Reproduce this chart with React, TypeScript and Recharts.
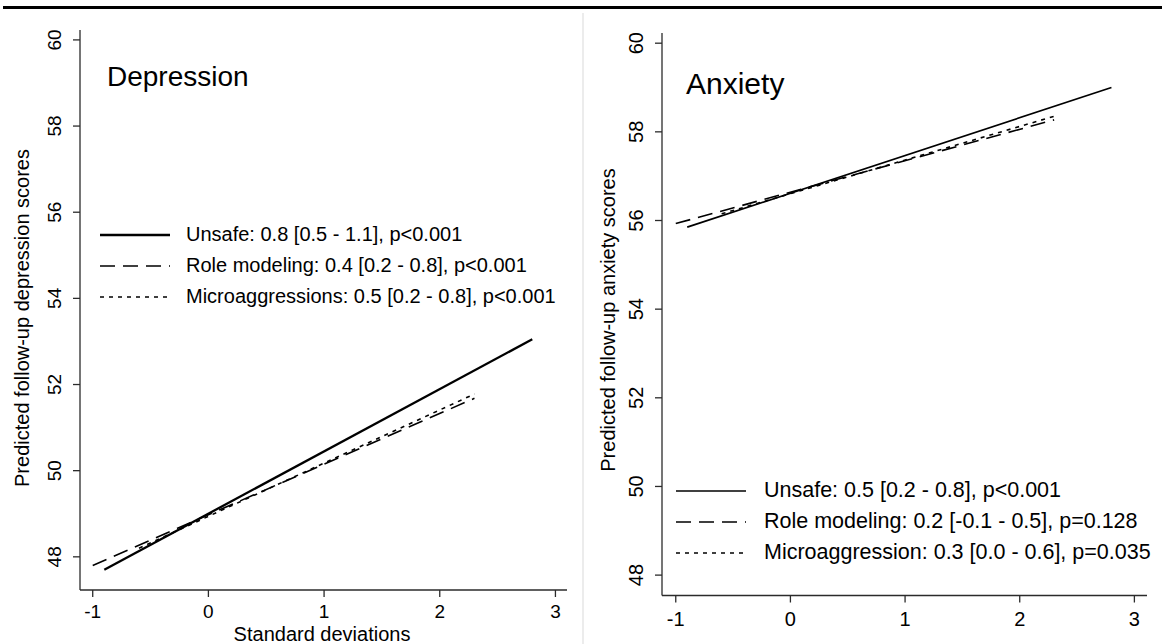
import React from 'react';
import { LineChart, Line, XAxis, YAxis, Legend } from 'recharts';

const FONT = '"Liberation Sans", Arial, Helvetica, sans-serif';
const INK = '#000';
const AXIS = '#2b2b2b';

const sdTicks = [-1, 0, 1, 2, 3];
const scoreTicks = [48, 50, 52, 54, 56, 58, 60];

// depression panel
const depUnsafeSd = [-0.9, 2.8];
const depUnsafe = [47.7, 53.05];
const depRoleSd = [-1.0, 2.3];
const depRole = [47.8, 51.68];
const depMicroSd = [-0.6, 2.3];
const depMicro = [48.2, 51.78];

// anxiety panel
const anxUnsafeSd = [-0.9, 2.8];
const anxUnsafe = [55.85, 59.0];
const anxRoleSd = [-1.0, 2.3];
const anxRole = [55.93, 58.27];
const anxMicroSd = [-0.6, 2.3];
const anxMicro = [56.15, 58.35];

const depLabels = [
  'Unsafe: 0.8 [0.5 - 1.1], p<0.001',
  'Role modeling: 0.4 [0.2 - 0.8], p<0.001',
  'Microaggressions: 0.5 [0.2 - 0.8], p<0.001',
];
const anxLabels = [
  'Unsafe: 0.5 [0.2 - 0.8], p<0.001',
  'Role modeling: 0.2 [-0.1 - 0.5], p=0.128',
  'Microaggression: 0.3 [0.0 - 0.6], p=0.035',
];

const rows = (xs: number[], ys: number[]) => xs.map((sd, i) => ({ sd, score: ys[i] }));

type Series = { name: string; data: { sd: number; score: number }[]; dash?: string; width: number };

const depSeries: Series[] = [
  { name: depLabels[0], data: rows(depUnsafeSd, depUnsafe), width: 2.3 },
  { name: depLabels[1], data: rows(depRoleSd, depRole), dash: '15 8', width: 1.6 },
  { name: depLabels[2], data: rows(depMicroSd, depMicro), dash: '4 5', width: 1.6 },
];
const anxSeries: Series[] = [
  { name: anxLabels[0], data: rows(anxUnsafeSd, anxUnsafe), width: 1.7 },
  { name: anxLabels[1], data: rows(anxRoleSd, anxRole), dash: '15 8', width: 1.6 },
  { name: anxLabels[2], data: rows(anxMicroSd, anxMicro), dash: '4 5', width: 1.6 },
];

const XTick = (props: any) => {
  const { x, y, payload, size, drop } = props;
  return (
    <text x={x} y={y + drop} textAnchor="middle" fontSize={size} fontFamily={FONT} fill={INK}>
      {payload.value}
    </text>
  );
};

const YTick = (props: any) => {
  const { x, y, payload, shift, size } = props;
  return (
    <text
      transform={`translate(${x - shift},${y}) rotate(-90)`}
      textAnchor="middle"
      dy="0.36em"
      fontSize={size}
      fontFamily={FONT}
      fill={INK}
    >
      {payload.value}
    </text>
  );
};

const YTitle = ({ text, posX, posY, size }: any) => (
  <text
    transform={`translate(${posX},${posY}) rotate(-90)`}
    textAnchor="middle"
    dy="0.36em"
    fontSize={size}
    fontFamily={FONT}
    fill={INK}
  >
    {text}
  </text>
);

const XTitle = ({ text, posX, posY }: any) => (
  <text transform={`translate(${posX},${posY})`} textAnchor="middle" fontSize={20} fontFamily={FONT} fill={INK}>
    {text}
  </text>
);

const LegendBox = ({ series, gap, size }: { series: Series[]; gap: number; size: number }) => (
  <div style={{ fontFamily: FONT }}>
    {series.map(s => (
      <div key={s.name} style={{ display: 'flex', alignItems: 'center', height: 31 }}>
        <svg width={70} height={6} style={{ marginRight: gap, flex: 'none' }}>
          <line x1={0} y1={3} x2={70} y2={3} stroke={INK} strokeWidth={s.width} strokeDasharray={s.dash} />
        </svg>
        <span style={{ fontSize: size, color: INK, whiteSpace: 'nowrap' }}>{s.name}</span>
      </div>
    ))}
  </div>
);

interface PanelProps {
  left: number;
  series: Series[];
  title: string;
  titleX: number;
  titleY: number;
  titleSize: number;
  yTitle: string;
  yTitleX: number;
  yTitleY: number;
  xTitle?: string;
  yDomain: [number, number];
  xDomain: [number, number];
  margin: { top: number; right: number; bottom: number; left: number };
  xAxisHeight: number;
  tickShift: number;
  tickSize: number;
  tickDrop: number;
  legendLeft: number;
  legendTop: number;
  legendGap: number;
  legendSize: number;
}

const Panel = (p: PanelProps) => (
  <div style={{ position: 'absolute', left: p.left, top: 0, width: 580, height: 644 }}>
    <LineChart width={580} height={644} margin={p.margin}>
      <XAxis
        dataKey="sd"
        type="number"
        domain={p.xDomain}
        ticks={sdTicks}
        allowDataOverflow
        stroke={AXIS}
        strokeWidth={1.3}
        tickSize={7}
        tickMargin={0}
        height={p.xAxisHeight}
        tick={<XTick size={p.tickSize} drop={p.tickDrop} />}
        label={p.xTitle ? <XTitle text={p.xTitle} posX={322} posY={641} /> : undefined}
      />
      <YAxis
        dataKey="score"
        type="number"
        domain={p.yDomain}
        ticks={scoreTicks}
        allowDataOverflow
        stroke={AXIS}
        strokeWidth={1.3}
        tickSize={7}
        tickMargin={0}
        width={60}
        tick={<YTick shift={p.tickShift} size={p.tickSize} />}
        label={<YTitle text={p.yTitle} posX={p.yTitleX} posY={p.yTitleY} size={20} />}
      />
      {p.series.map(s => (
        <Line
          key={s.name}
          name={s.name}
          data={s.data}
          dataKey="score"
          type="linear"
          stroke={INK}
          strokeWidth={s.width}
          strokeDasharray={s.dash}
          dot={false}
          activeDot={false}
          isAnimationActive={false}
        />
      ))}
      <Legend
        layout="vertical"
        align="center"
        verticalAlign="middle"
        wrapperStyle={{ left: p.legendLeft, top: p.legendTop, width: 480 }}
        content={() => <LegendBox series={p.series} gap={p.legendGap} size={p.legendSize} />}
      />
    </LineChart>
    <div
      style={{
        position: 'absolute',
        left: p.titleX,
        top: p.titleY,
        fontFamily: FONT,
        fontSize: p.titleSize,
        color: INK,
        lineHeight: 1,
      }}
    >
      {p.title}
    </div>
  </div>
);

export default function App() {
  return (
    <div style={{ position: 'absolute', left: 0, top: 0, width: 1162, height: 644, background: '#fff', overflow: 'hidden' }}>
      <div style={{ position: 'absolute', left: 3, top: 6, width: 1159, height: 2.5, background: '#000' }} />
      <div style={{ position: 'absolute', left: 582, top: 13, width: 2, height: 631, background: '#ececec' }} />
      <Panel
        left={0}
        series={depSeries}
        title="Depression"
        titleX={107}
        titleY={63}
        titleSize={28}
        yTitle="Predicted follow-up depression scores"
        yTitleX={22}
        yTitleY={318}
        xTitle="Standard deviations"
        yDomain={[47.23, 60.23]}
        xDomain={[-1.11, 3.1]}
        margin={{ top: 30, right: 13, bottom: 4, left: 20 }}
        xAxisHeight={50}
        tickShift={19}
        tickSize={19}
        tickDrop={21}
        legendLeft={100}
        legendTop={219}
        legendGap={16}
        legendSize={20}
      />
      <Panel
        left={580}
        series={anxSeries}
        title="Anxiety"
        titleX={106}
        titleY={69}
        titleSize={30}
        yTitle="Predicted follow-up anxiety scores"
        yTitleX={28}
        yTitleY={320}
        yDomain={[47.54, 60.23]}
        xDomain={[-1.12, 3.11]}
        margin={{ top: 33, right: 13, bottom: 0, left: 22 }}
        xAxisHeight={48.5}
        tickShift={19}
        tickSize={20}
        tickDrop={23}
        legendLeft={96}
        legendTop={475}
        legendGap={18}
        legendSize={21.5}
      />
    </div>
  );
}
